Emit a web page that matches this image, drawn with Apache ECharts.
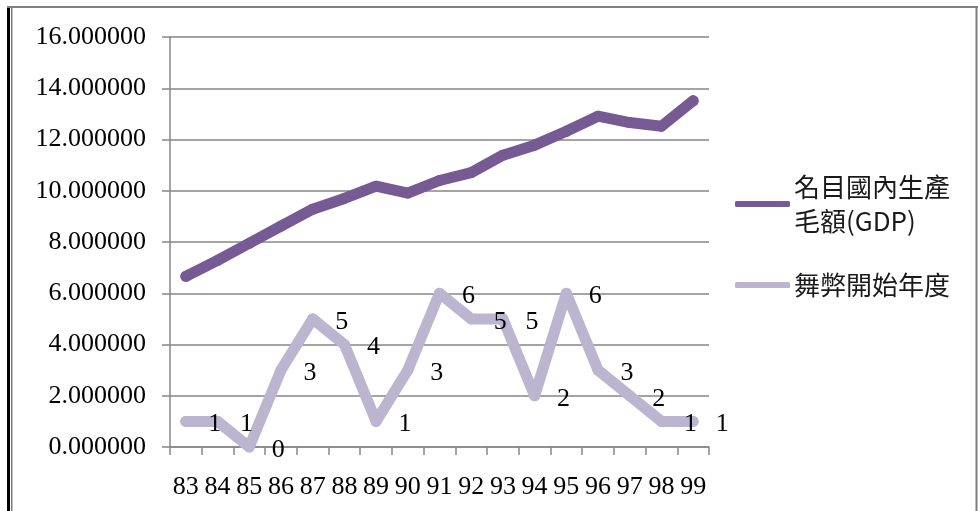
<!DOCTYPE html>
<html>
<head>
<meta charset="utf-8">
<script src="https://cdn.jsdelivr.net/npm/echarts@6/dist/echarts.min.js"></script>
<style>
  html, body { margin: 0; padding: 0; background: #fff; }
  #chart { width: 978px; height: 511px; }
</style>
</head>
<body>
<div id="chart"></div>
<script>
// 民國年
var years = ['83','84','85','86','87','88','89','90','91','92','93','94','95','96','97','98','99'];
// 名目國內生產毛額(GDP)
var gdpValues = [6.66, 7.28, 7.95, 8.62, 9.28, 9.70, 10.18, 9.91, 10.40, 10.71, 11.39, 11.78, 12.32, 12.91, 12.66, 12.52, 13.51];
// 舞弊開始年度
var fraudValues = [1, 1, 0, 3, 5, 4, 1, 3, 6, 5, 5, 2, 6, 3, 2, 1, 1];
var yTicks = { min: 0, max: 16, interval: 2 };

var gdpName = '名目國內生產毛額(GDP)';
var fraudName = '舞弊開始年度';
var gdpColor = '#765a94';
var fraudColor = '#bcb5cf';
var serif = '"Liberation Serif", "Times New Roman", serif';
var cjk = '"Noto Sans CJK TC", "Noto Sans", sans-serif';

var myChart = echarts.init(document.getElementById('chart'));
myChart.setOption({
    animation: false,
    backgroundColor: '#fff',
    grid: {
        left: 170,
        right: 269,
        top: 37,
        bottom: 64
    },
    legend: {
        orient: 'vertical',
        left: 735,
        top: 153,
        padding: 0,
        icon: 'roundRect',
        itemWidth: 55,
        itemHeight: 6,
        itemGap: 13,
        textStyle: {
            fontFamily: cjk,
            fontSize: 26,
            lineHeight: 34,
            color: '#1a1a1a',
            padding: [0, 0, 0, -1]
        },
        formatter: function (name) {
            return name === gdpName ? '名目國內生產\n毛額(GDP)' : name;
        },
        data: [
            { name: gdpName, textStyle: { padding: [34, 0, 0, -1] } },
            { name: fraudName }
        ]
    },
    xAxis: {
        type: 'category',
        data: years,
        boundaryGap: true,
        axisLine: { lineStyle: { color: '#868686', width: 1.5 } },
        axisTick: { show: true, length: 8, lineStyle: { color: '#868686', width: 1.5 } },
        axisLabel: {
            margin: 27,
            interval: 0,
            fontFamily: serif,
            fontSize: 26,
            color: '#000'
        }
    },
    yAxis: {
        type: 'value',
        min: yTicks.min,
        max: yTicks.max,
        interval: yTicks.interval,
        axisLine: { show: true, lineStyle: { color: '#868686', width: 1.5 } },
        axisTick: { show: true, length: 8, lineStyle: { color: '#868686', width: 1.5 } },
        splitLine: { show: true, lineStyle: { color: '#868686', width: 1.5 } },
        axisLabel: {
            margin: 24,
            fontFamily: serif,
            fontSize: 26,
            color: '#000',
            formatter: function (v) { return v.toFixed(6); }
        }
    },
    series: [
        {
            name: gdpName,
            type: 'line',
            data: gdpValues,
            symbol: 'circle',
            symbolSize: 11,
            color: gdpColor,
            itemStyle: { color: gdpColor },
            lineStyle: { color: gdpColor, width: 11, cap: 'round', join: 'round' }
        },
        {
            name: fraudName,
            type: 'line',
            data: fraudValues,
            symbol: 'circle',
            symbolSize: 11,
            color: fraudColor,
            itemStyle: { color: fraudColor },
            lineStyle: { color: fraudColor, width: 11, cap: 'round', join: 'round' },
            label: {
                show: true,
                position: 'right',
                distance: 17,
                offset: [0, 3],
                fontFamily: serif,
                fontSize: 26,
                color: '#000'
            }
        }
    ],
    graphic: [
        // 外框
        { type: 'rect', shape: { x: 7, y: 7, width: 3, height: 504 }, style: { fill: '#000' }, silent: true },
        { type: 'rect', shape: { x: 11, y: 7, width: 1.5, height: 504 }, style: { fill: '#7f7f7f' }, silent: true },
        { type: 'rect', shape: { x: 7, y: 6, width: 971, height: 2 }, style: { fill: '#7f7f7f' }, silent: true },
        { type: 'rect', shape: { x: 975.5, y: 7, width: 2, height: 504 }, style: { fill: '#7f7f7f' }, silent: true }
    ]
});
</script>
</body>
</html>
